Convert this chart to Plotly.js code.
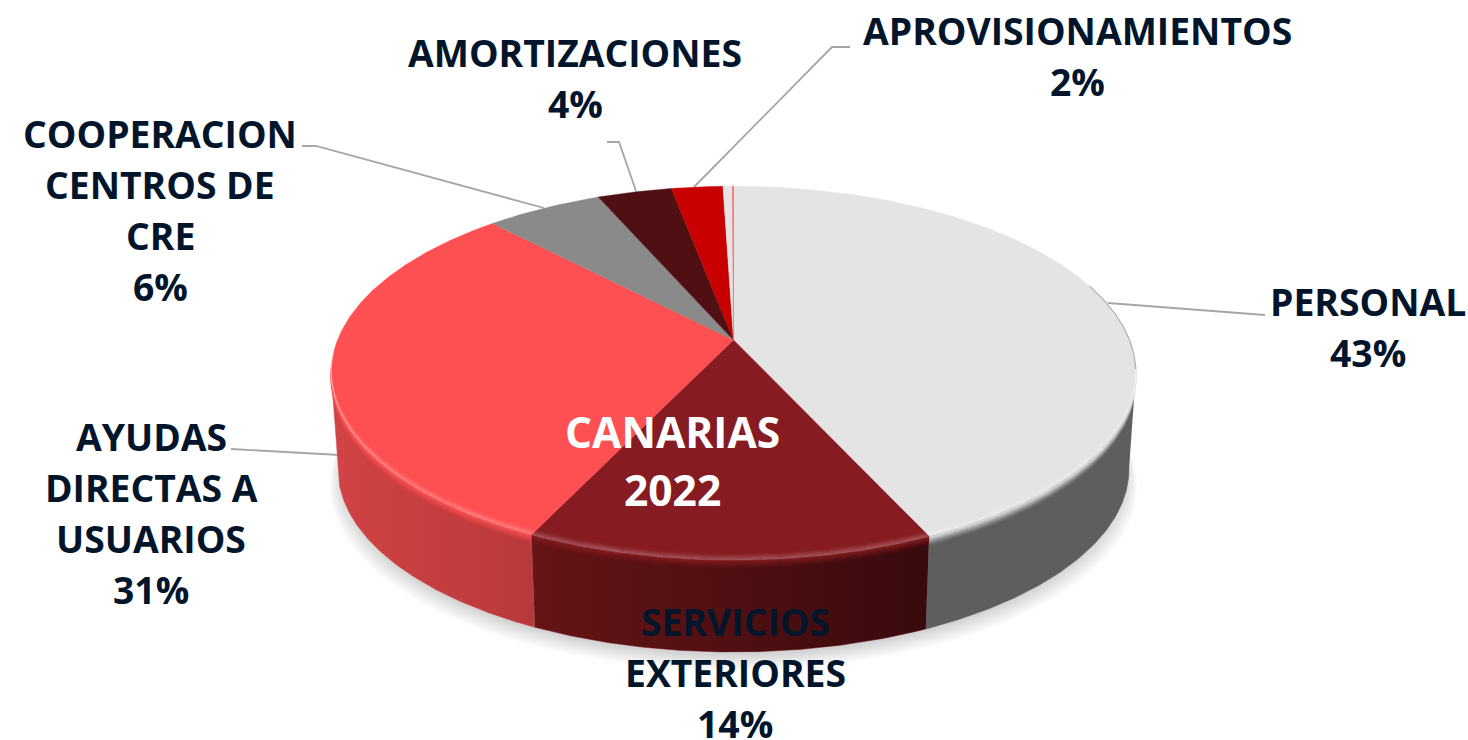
<!DOCTYPE html>
<html>
<head>
<meta charset="utf-8">
<script src="https://cdn.plot.ly/plotly-3.0.1.min.js"></script>
<style>html,body{margin:0;padding:0;background:#fff}#chart{width:1468px;height:740px}</style>
</head>
<body>
<div id="chart"></div>
<script>
// ---- data ----
const categories = ['PERSONAL','SERVICIOS EXTERIORES','AYUDAS DIRECTAS A USUARIOS','COOPERACION CENTROS DE CRE','AMORTIZACIONES','APROVISIONAMIENTOS','OTROS GASTOS','OTROS'];
const values = [43.2, 13.85, 30.9, 5.55, 3.55, 2.45, 0.45, 0.05];
const topColors = ['#e4e4e4','#861c22','#fe5052','#8a8a8a','#501013','#c80000','#e4e4e4','#fe5052'];
const wallLeft  = ['#5e5e5e','#661416','#d24344','#6a6a6a','#3a0a0c','#900000','#aaaaaa','#c03c3c'];
const wallRight = ['#5e5e5e','#380a0d','#b8393a','#6a6a6a','#3a0a0c','#900000','#aaaaaa','#c03c3c'];
const labelLines = [['PERSONAL'],['SERVICIOS','EXTERIORES'],['AYUDAS','DIRECTAS A','USUARIOS'],['COOPERACION','CENTROS DE','CRE'],['AMORTIZACIONES'],['APROVISIONAMIENTOS'],null,null];
const labelCenterX = [1368,735,151,160,575,1077,null,null];
const labelFirstY  = [301,621,436,133,52,30,null,null];
const centerTitle = ['CANARIAS','2022'];
const textColor = '#02152b';
const lineStep = 51;

// ---- perspective disc geometry ----
const apexX = 733.5, apexY = 340, k = 0.177, a = 396, b = 181;
const ellipseCy = 373, bottomCy = 469, bottomSx = 0.983, bottomSy = 0.979;
const frontStart = Math.acos(-k), frontEnd = 2*Math.PI - frontStart;

function rim(t){ const u=Math.sin(t), v=-Math.cos(t), w=1-k*v; return [apexX+a*u/w, apexY+b*v/w]; }
function base(t){ const p=rim(t); return [apexX+(p[0]-apexX)*bottomSx, bottomCy+(p[1]-ellipseCy)*bottomSy]; }
function arc(fn,t0,t1){ const n=Math.max(2,Math.ceil(Math.abs(t1-t0)/0.01)); const out=[]; for(let i=0;i<=n;i++){ out.push(fn(t0+(t1-t0)*i/n)); } return out; }
function hexRgb(h){ return [parseInt(h.slice(1,3),16),parseInt(h.slice(3,5),16),parseInt(h.slice(5,7),16)]; }
function rgba(h,al){ const c=hexRgb(h); return 'rgba('+c[0]+','+c[1]+','+c[2]+','+al+')'; }

const total = values.reduce((s,v)=>s+v,0);
const starts=[], ends=[]; let acc=0;
values.forEach(v=>{ starts.push(acc/total*2*Math.PI); acc+=v; ends.push(acc/total*2*Math.PI); });

const traces = [];
function poly(pts,opts){ traces.push(Object.assign({type:'scatter',mode:'lines',x:pts.map(p=>p[0]),y:pts.map(p=>p[1]),fill:'toself',showlegend:false,hoverinfo:'skip'},opts)); }

// soft shadow under the disc
for(let i=0;i<11;i++){
  const pts=[]; const rx=392+i*1.2, ry=183, cy=bottomCy+3+i*1.5;
  for(let j=0;j<=360;j+=2){ const t=j*Math.PI/180; pts.push([apexX+rx*Math.cos(t), cy+ry*Math.sin(t)]); }
  poly(pts,{line:{width:0},fillcolor:'rgba(0,0,0,0.017)'});
}
// side wall
values.forEach((v,i)=>{
  const t0=Math.max(starts[i],frontStart), t1=Math.min(ends[i],frontEnd);
  if(t1<=t0) return;
  const pts=arc(rim,t0,t1).concat(arc(base,t1,t0));
  const flat = wallLeft[i]===wallRight[i];
  const o={line:{width:0.5,color:wallLeft[i]},name:categories[i]};
  if(flat){ o.fillcolor=wallLeft[i]; } else { o.fillgradient={type:'horizontal',colorscale:[[0,wallLeft[i]],[1,wallRight[i]]]}; }
  poly(pts,o);
});
// top face
values.forEach((v,i)=>{
  const pts=[[apexX,apexY]].concat(arc(rim,starts[i],ends[i])); pts.push([apexX,apexY]);
  poly(pts,{line:{width:0.4,color:topColors[i]},fillcolor:topColors[i],name:categories[i],
    hoverinfo:'text',text:categories[i]+': '+Math.round(v)+'%',hoveron:'fills'});
});
// bevel along the front rim: surface colour melting over the wall, thin highlight on the edge
const fade=[[1,0.9],[2,0.75],[3,0.6],[4,0.47],[5,0.35],[6,0.25],[7,0.16],[8,0.09],[9,0.04]];
const glow=[[-6,0.02],[-5,0.04],[-4,0.07],[-3,0.1],[-2,0.14],[-1,0.17],[0,0.17]];
values.forEach((v,i)=>{
  const t0=Math.max(starts[i],frontStart-0.1), t1=Math.min(ends[i],frontEnd+0.1);
  if(t1<=t0) return;
  const line=(d,col)=>{ const pts=arc(rim,t0,t1).map(p=>[p[0],p[1]+d]);
    traces.push({type:'scatter',mode:'lines',x:pts.map(p=>p[0]),y:pts.map(p=>p[1]),line:{width:1.3,color:col},showlegend:false,hoverinfo:'skip'}); };
  fade.forEach(s=>line(s[0],rgba(topColors[i],s[1])));
  glow.forEach(s=>line(s[0],rgba('#ffffff',s[1])));
});
// thin soft edge on the upper right of the disc
(function(){ const pts=arc(rim,1.25,frontStart-0.02);
  traces.push({type:'scatter',mode:'lines',x:pts.map(p=>p[0]),y:pts.map(p=>p[1]),line:{width:1.2,color:'#b0b0b0'},showlegend:false,hoverinfo:'skip'}); })();

// labels, one annotation per text line so the line pitch matches
const annotations=[];
function label(txt,x,y,col,size){ annotations.push({xref:'x',yref:'y',x:x,y:y,text:'<b>'+txt+'</b>',showarrow:false,xanchor:'center',yanchor:'middle',font:{family:'"Open Sans"',size:size,color:col}}); }
labelLines.forEach((ls,i)=>{ if(!ls) return;
  ls.forEach((t,j)=>label(t,labelCenterX[i],labelFirstY[i]+j*lineStep,textColor,37.3));
  label(Math.round(values[i])+'%',labelCenterX[i],labelFirstY[i]+ls.length*lineStep,textColor,37.3);
});
centerTitle.forEach((t,j)=>label(t,672,431+j*58,'#ffffff',42.5));

// leader lines
const leaderPaths=['M1108 303 L1265 315','M231 449 L340 455','M302 146 L316 146 L544 208','M607 142 L619 142 L636 191','M694 187 L832 47 L850 47'];
const shapes=leaderPaths.map(p=>({type:'path',xref:'x',yref:'y',path:p,line:{color:'#a6a6a6',width:1.8},layer:'below'}));

const hiddenAxis={visible:false,fixedrange:true,showgrid:false,zeroline:false};
Plotly.newPlot('chart',traces,{
  width:1468,height:740,margin:{l:0,r:0,t:0,b:0},
  paper_bgcolor:'#ffffff',plot_bgcolor:'#ffffff',showlegend:false,
  xaxis:Object.assign({range:[0,1468]},hiddenAxis),
  yaxis:Object.assign({range:[740,0]},hiddenAxis),
  annotations:annotations,shapes:shapes
},{displayModeBar:false});
</script>
</body>
</html>
